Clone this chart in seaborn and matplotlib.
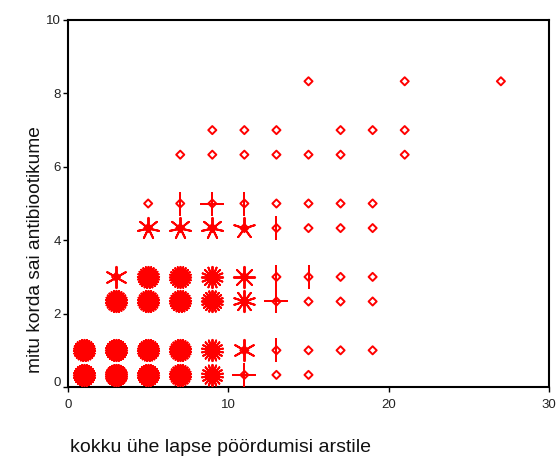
import numpy as np
import pandas as pd
import matplotlib
matplotlib.use("Agg")
import matplotlib.pyplot as plt
import matplotlib.transforms as mtransforms
import seaborn as sns

# Sunflower cells: bin centre on each axis and number of cases in the cell
cell_x = [1, 3, 5, 7, 9, 11, 13, 15,
          1, 3, 5, 7, 9, 11, 13, 15, 17, 19,
          3, 5, 7, 9, 11, 13, 15, 17, 19,
          3, 5, 7, 9, 11, 13, 15, 17, 19,
          5, 7, 9, 11, 13, 15, 17, 19,
          5, 7, 9, 11, 13, 15, 17, 19,
          7, 9, 11, 13, 15, 17, 21,
          9, 11, 13, 17, 19, 21,
          15, 21, 27]
cell_y = [0.33] * 8 + [1.0] * 10 + [2.33] * 9 + [3.0] * 9 + [4.33] * 8 + \
         [5.0] * 8 + [6.33] * 7 + [7.0] * 6 + [8.33] * 3
cell_n = [28, 30, 28, 26, 18, 4, 1, 1,
          27, 28, 27, 26, 18, 6, 2, 1, 1, 1,
          26, 26, 25, 20, 10, 4, 1, 1, 1,
          6, 25, 24, 16, 8, 2, 2, 1, 1,
          7, 7, 7, 5, 2, 1, 1, 1,
          1, 2, 4, 2, 1, 1, 1, 1,
          1, 1, 1, 1, 1, 1, 1,
          1, 1, 1, 1, 1, 1,
          1, 1, 1]

x_ticks = [0, 10, 20, 30]
y_ticks = [0, 2, 4, 6, 8, 10]
x_label = "kokku ühe lapse pöördumisi arstile"
y_label = "mitu korda sai antibiootikume"

cells = pd.DataFrame({"x": cell_x, "y": cell_y, "n": cell_n})

sns.set_style("white")
plt.rcParams["font.family"] = ["Liberation Sans", "DejaVu Sans"]

fig = plt.figure(figsize=(5.59, 4.59), dpi=100)
ax = fig.add_axes([68 / 559, 1 - 387 / 459, (549 - 68) / 559, (387 - 20) / 459])

red = "#ff0000"

# Petals: one spoke per case, drawn as an asterisk marker
for n, grp in cells[cells["n"] > 1].groupby("n"):
    sns.scatterplot(data=grp, x="x", y="y", ax=ax, marker=(int(n), 2, 0),
                    s=235, color=red, linewidth=1.4, legend=False, zorder=3)

# Centre of every sunflower
sns.scatterplot(data=cells, x="x", y="y", ax=ax, marker="D", s=17,
                facecolor="none", edgecolor=red, linewidth=1.4,
                legend=False, zorder=4)

ax.set_xlim(0, 30)
ax.set_ylim(0, 10)
ax.set_xticks(x_ticks)
ax.set_yticks(y_ticks)
ax.set_xticklabels([str(v) for v in x_ticks])
ax.set_yticklabels([str(v) for v in y_ticks])
ax.set_xlabel("")
ax.set_ylabel("")

for side in ["left", "right", "top", "bottom"]:
    ax.spines[side].set_visible(True)
    ax.spines[side].set_color("black")
    ax.spines[side].set_linewidth(1.5)

ax.tick_params(axis="both", which="major", direction="out", length=3.5,
               width=1.0, color="black", labelsize=9.5, labelcolor="#222222",
               bottom=True, left=True, top=False, right=False)
ax.tick_params(axis="x", pad=5.5)
ax.tick_params(axis="y", pad=1.5)

# Lift the lowest y label so it clears the x axis
lift = mtransforms.ScaledTranslation(0, 5 / 100, fig.dpi_scale_trans)
lab0 = ax.yaxis.get_major_ticks()[0].label1
lab0.set_transform(lab0.get_transform() + lift)

fig.text(70 / 559, 1 - 448 / 459, x_label, ha="left", va="center",
         fontsize=14, color="#111111")
fig.text(36 / 559, 1 - 373 / 459, y_label, ha="center", va="bottom",
         rotation=90, fontsize=13.8, color="#111111")

fig.savefig("out.png", dpi=100)
